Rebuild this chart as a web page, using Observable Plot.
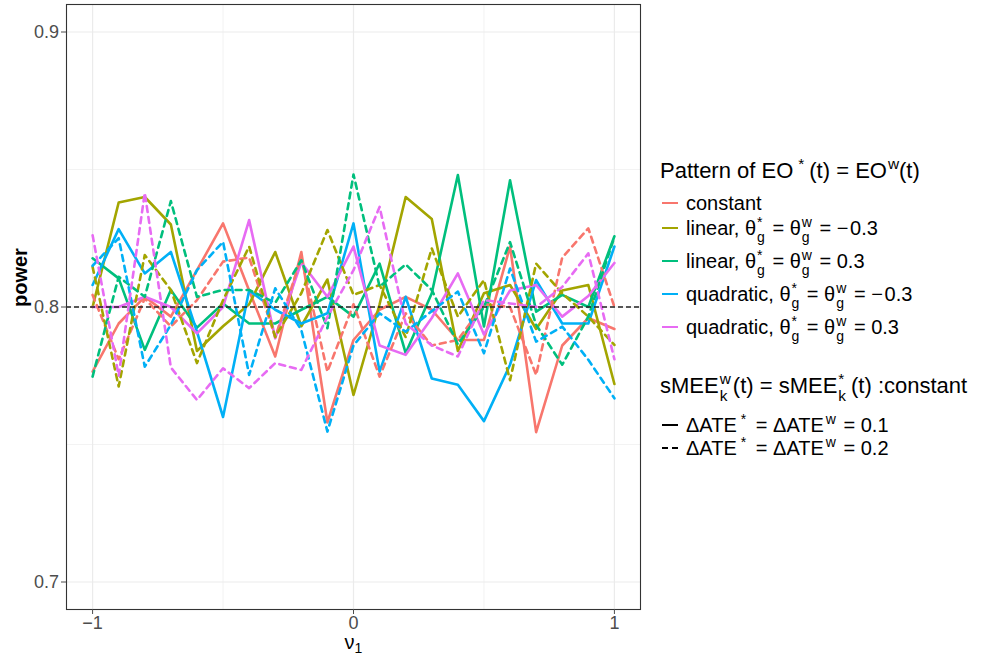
<!DOCTYPE html>
<html>
<head>
<meta charset="utf-8">
<script src="https://cdn.jsdelivr.net/npm/d3@7"></script>
<script src="https://cdn.jsdelivr.net/npm/@observablehq/plot@0.6"></script>
<style>
  html, body { margin: 0; padding: 0; background: #fff; }
  #wrap { position: relative; width: 995px; height: 657px; font-family: "Liberation Sans", Arial, Helvetica, sans-serif; color: #000; }
  #chart { position: absolute; left: 0; top: 0; }
  .lg { position: absolute; white-space: nowrap; height: 40px; line-height: 40px; font-size: 20px; }
  .ttl { font-size: 22px; }
  .key { display: inline-block; width: 16px; height: 2.5px; vertical-align: 6px; margin-right: 8px; }
  .dash { background: repeating-linear-gradient(to right, #000 0 6px, transparent 6px 10px); }
  .sp { font-size: 0.7em; position: relative; top: -0.6em; margin: 0 2px; }
  .ss { display: inline-block; font-size: 0.7em; line-height: 1.12em; vertical-align: -0.52em; margin: 0 2px 0 1px; text-align: left; }
  .ss > span { display: block; }
</style>
</head>
<body>
<div id="wrap">
  <div id="chart"></div>
</div>
<script>
// x values (nu_1)
const nu = [-1, -0.9, -0.8, -0.7, -0.6, -0.5, -0.4, -0.3, -0.2, -0.1, 0, 0.1, 0.2, 0.3, 0.4, 0.5, 0.6, 0.7, 0.8, 0.9, 1];

// Pattern categories
const patterns = ["constant", "linear_neg", "linear_pos", "quadratic_neg", "quadratic_pos"];
const patternColors = ["#F8766D", "#A3A500", "#00BF7D", "#00B0F6", "#E76BF3"];

// Delta ATE = 0.1 (solid)
const constant01 = [0.7765, 0.794, 0.8037, 0.7965, 0.8134, 0.8304, 0.806, 0.782, 0.820, 0.758, 0.788, 0.799, 0.8037, 0.799, 0.788, 0.788, 0.822, 0.7545, 0.786, 0.796, 0.792];
const linearNeg01 = [0.800, 0.838, 0.840, 0.830, 0.784, 0.793, 0.801, 0.820, 0.793, 0.810, 0.768, 0.801, 0.840, 0.832, 0.784, 0.805, 0.808, 0.792, 0.806, 0.808, 0.772];
const linearPos01 = [0.8177, 0.8104, 0.7844, 0.8062, 0.7925, 0.8013, 0.794, 0.794, 0.799, 0.8037, 0.7965, 0.8158, 0.7832, 0.805, 0.848, 0.7929, 0.8461, 0.7983, 0.8044, 0.800, 0.8257];
const quadNeg01 = [0.808, 0.8283, 0.8122, 0.820, 0.791, 0.760, 0.806, 0.799, 0.794, 0.7977, 0.8304, 0.7765, 0.8037, 0.774, 0.7717, 0.7585, 0.779, 0.8098, 0.794, 0.794, 0.822];
const quadPos01 = [0.800, 0.800, 0.8037, 0.800, 0.7904, 0.800, 0.8316, 0.7886, 0.8162, 0.8037, 0.822, 0.786, 0.7826, 0.796, 0.8122, 0.790, 0.806, 0.808, 0.7965, 0.804, 0.816];

// Delta ATE = 0.2 (dashed)
const constant02 = [0.8044, 0.781, 0.8031, 0.7929, 0.8025, 0.8165, 0.818, 0.789, 0.818, 0.7765, 0.801, 0.7747, 0.7977, 0.786, 0.788, 0.801, 0.800, 0.7753, 0.818, 0.8286, 0.800];
const linearNeg02 = [0.8146, 0.7711, 0.8189, 0.8062, 0.7796, 0.8025, 0.822, 0.7891, 0.805, 0.828, 0.8044, 0.808, 0.789, 0.8213, 0.7965, 0.8098, 0.7734, 0.8158, 0.805, 0.7965, 0.7862];
const linearPos02 = [0.7747, 0.811, 0.8037, 0.8385, 0.8037, 0.8062, 0.8062, 0.8015, 0.817, 0.7923, 0.8482, 0.8074, 0.8155, 0.8062, 0.7864, 0.800, 0.8236, 0.7935, 0.779, 0.7965, 0.8255];
const quadNeg02 = [0.815, 0.825, 0.7783, 0.7935, 0.8134, 0.8237, 0.7753, 0.8068, 0.7916, 0.7547, 0.786, 0.7977, 0.791, 0.7985, 0.8056, 0.7832, 0.814, 0.7874, 0.7929, 0.7808, 0.7668];
const quadPos02 = [0.8261, 0.775, 0.8415, 0.778, 0.7662, 0.7777, 0.7705, 0.7796, 0.7771, 0.7964, 0.8134, 0.8364, 0.794, 0.786, 0.782, 0.8025, 0.8013, 0.800, 0.8073, 0.8195, 0.781];

const refLine = [0.8];
const yTicks = [0.7, 0.8, 0.9];
const yMinor = [0.75, 0.85];
const xTicks = [-1, 0, 1];
const xMinor = [-0.5, 0.5];

// Legend labels
const patternLabels = [
  "constant",
  "linear, θ<span class='ss'><span>*</span><span>g</span></span> = θ<span class='ss'><span>w</span><span>g</span></span> = −&#8202;0.3",
  "linear, θ<span class='ss'><span>*</span><span>g</span></span> = θ<span class='ss'><span>w</span><span>g</span></span> = 0.3",
  "quadratic, θ<span class='ss'><span>*</span><span>g</span></span> = θ<span class='ss'><span>w</span><span>g</span></span> = −&#8202;0.3",
  "quadratic, θ<span class='ss'><span>*</span><span>g</span></span> = θ<span class='ss'><span>w</span><span>g</span></span> = 0.3"
];
const ateLabels = [
  "ΔATE<span class='sp' style='margin:0 4px'>*</span> = ΔATE<span class='sp'>w</span> = 0.1",
  "ΔATE<span class='sp' style='margin:0 4px'>*</span> = ΔATE<span class='sp'>w</span> = 0.2"
];

const series01 = [constant01, linearNeg01, linearPos01, quadNeg01, quadPos01];
const series02 = [constant02, linearNeg02, linearPos02, quadNeg02, quadPos02];

const rows01 = [], rows02 = [];
patterns.forEach((p, k) => {
  nu.forEach((x, i) => {
    rows01.push({nu: x, power: series01[k][i], pattern: p});
    rows02.push({nu: x, power: series02[k][i], pattern: p});
  });
});

const fmt = d3.format("~g");

const chart = Plot.plot({
  width: 645,
  height: 657,
  marginLeft: 66,
  marginRight: 5,
  marginTop: 4,
  marginBottom: 48,
  x: {domain: [-1.1, 1.1]},
  y: {domain: [0.69, 0.91]},
  color: {domain: patterns, range: patternColors},
  style: {fontFamily: "'Liberation Sans', Arial, Helvetica, sans-serif", fontSize: "18px", background: "#fff", color: "#4d4d4d", overflow: "visible"},
  marks: [
    Plot.gridX(xMinor, {stroke: "#ebebeb", strokeOpacity: 1, strokeWidth: 0.6}),
    Plot.gridY(yMinor, {stroke: "#ebebeb", strokeOpacity: 1, strokeWidth: 0.6}),
    Plot.gridX(xTicks, {stroke: "#ebebeb", strokeOpacity: 1, strokeWidth: 1.2}),
    Plot.gridY(yTicks, {stroke: "#ebebeb", strokeOpacity: 1, strokeWidth: 1.2}),
    Plot.line(rows01, {x: "nu", y: "power", z: "pattern", stroke: "pattern", strokeWidth: 2.6, strokeLinejoin: "round"}),
    Plot.line(rows02, {x: "nu", y: "power", z: "pattern", stroke: "pattern", strokeWidth: 2.6, strokeDasharray: "6,5"}),
    Plot.ruleY(refLine, {stroke: "#222", strokeWidth: 1.3, strokeDasharray: "5,3"}),
    Plot.frame({stroke: "#333", strokeWidth: 1.1}),
    Plot.axisY({ticks: yTicks, tickFormat: fmt, tickSize: 5, tickPadding: 2.5, label: null, fontSize: 18, color: "#4d4d4d"}),
    Plot.axisX({ticks: xTicks, tickFormat: fmt, tickSize: 5, tickPadding: 2, label: null, fontSize: 18, color: "#4d4d4d"}),
    Plot.text(["power"], {frameAnchor: "left", dx: -46, rotate: -90, fontWeight: "bold", fontSize: 20, fill: "#000"}),
    Plot.text(["ν1"], {frameAnchor: "bottom", dy: 39, fontSize: 20, fill: "#000"})
  ]
});
document.getElementById("chart").appendChild(chart);

// subscript for nu_1
chart.querySelectorAll("text").forEach(t => {
  if (t.textContent === "ν1") {
    t.textContent = "ν";
    const ts = document.createElementNS("http://www.w3.org/2000/svg", "tspan");
    ts.setAttribute("dy", "0.3em");
    ts.setAttribute("font-size", "14");
    ts.textContent = "1";
    t.appendChild(ts);
  }
});

// Legend (HTML, to the right of the panel)
const wrap = document.getElementById("wrap");
function addRow(html, left, baseline, cls) {
  const d = document.createElement("div");
  d.className = "lg" + (cls ? " " + cls : "");
  d.style.left = left + "px";
  d.style.top = (baseline - 27) + "px";
  d.innerHTML = html;
  wrap.appendChild(d);
  return d;
}
addRow("Pattern of EO<span class='sp' style='margin:0 5px'>*</span>(t) = EO<span class='sp' style='margin:0 0 0 1px'>w</span>(t)", 660, 178, "ttl");
const patBase = [210, 235, 268, 301, 334];
patterns.forEach((p, k) => {
  addRow(`<span class="key" style="background:${patternColors[k]}"></span>${patternLabels[k]}`, 662, patBase[k]);
});
addRow("sMEE<span class='ss'><span>w</span><span>k</span></span>(t) = sMEE<span class='ss' style='margin-right:5px'><span>*</span><span>k</span></span>(t) :constant", 660, 393, "ttl");
addRow(`<span class="key" style="background:#000"></span>${ateLabels[0]}`, 662, 432);
addRow(`<span class="key dash"></span>${ateLabels[1]}`, 662, 455);
</script>
</body>
</html>
